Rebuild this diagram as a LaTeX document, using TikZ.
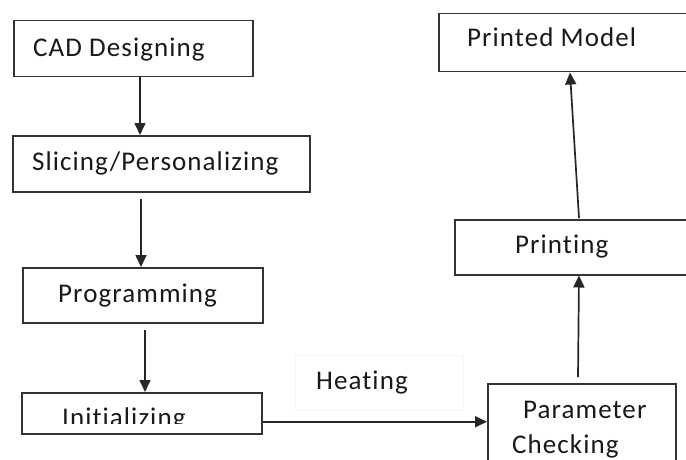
\documentclass[tikz,border=0pt]{standalone}
\usepackage{fontspec}
\setmainfont{Carlito}[Ligatures={NoCommon}, LetterSpace=4]
\usetikzlibrary{arrows.meta}
\begin{document}
\begin{tikzpicture}[x=1pt,y=-1pt,
  box/.style={draw=black!80, line width=1.5pt, rectangle, inner sep=0pt, anchor=north west},
  lbl/.style={anchor=base west, inner sep=0pt, text=black!90, font=\fontsize{27}{31}\selectfont},
  arr/.style={draw=black!85, line width=1.7pt, -{Triangle[width=11pt,length=12pt]}}]
\useasboundingbox (0,0) rectangle (686,460);
\clip (0,0) rectangle (686,460);
\fill[white] (0,0) rectangle (686,460);

% process boxes
\node[box, minimum width=239pt, minimum height=56pt] (cad) at (13,20) {};
\node[box, minimum width=297pt, minimum height=56pt] (slice) at (12,135) {};
\node[box, minimum width=240pt, minimum height=55pt] (prog) at (22,267) {};
\node[box, minimum width=240pt, minimum height=41pt] (init) at (21,392) {};
\node[box, minimum width=188pt, minimum height=90pt] (param) at (487,383) {};
\node[box, minimum width=260pt, minimum height=55pt] (print) at (454,219) {};
\node[box, minimum width=270pt, minimum height=58pt] (model) at (438,13) {};

% faint frame of the heating label
\node[draw=black!4, line width=0.8pt, rectangle, inner sep=0pt, anchor=north west,
  minimum width=168pt, minimum height=55pt] (heatbox) at (295,355) {};

% labels
\node[lbl] (tcad) at (33,57) {CAD Designing};
\node[lbl] (tslice) at (32,170) {Slicing/Personalizing};
\node[lbl] (tprog) at (58,302) {Programming};
\begin{scope}
  \clip (21,392) rectangle (261,423);
  \node[lbl] (tinit) at (62,426) {Initializing};
\end{scope}
\node[lbl] (theat) at (316,389) {Heating};
\node[lbl] (tparam) at (523,418) {Parameter};
\node[lbl] (tcheck) at (512,453) {Checking};
\node[lbl] (tprint) at (515,253) {Printing};
\node[lbl] (tmodel) at (467,47) {Printed Model};

% connectors
\draw[arr] ([xshift=127pt]cad.south west) -- ([xshift=128pt]slice.north west);
\draw[arr] ([xshift=129pt,yshift=-6pt]slice.south west) -- ([xshift=119pt]prog.north west);
\draw[arr] ([xshift=123pt,yshift=-6pt]prog.south west) -- ([xshift=124pt]init.north west);
\draw[arr] ([yshift=-8.5pt]init.east) -- ([yshift=-8.5pt]init.east -| param.west);
\draw[arr] ([xshift=91pt,yshift=6pt]param.north west) -- ([xshift=125pt]print.south west);
\draw[arr] ([xshift=125pt,yshift=1pt]print.north west) -- ([xshift=132pt]model.south west);
\end{tikzpicture}
\end{document}
